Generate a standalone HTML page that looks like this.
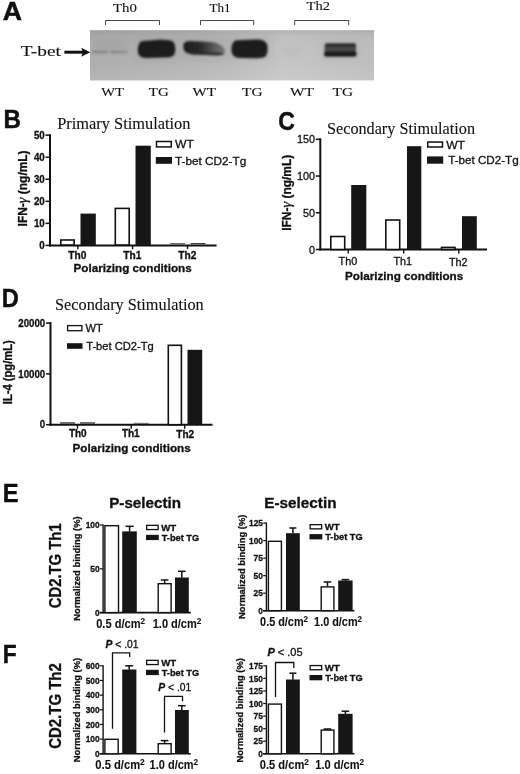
<!DOCTYPE html>
<html lang="en"><head><meta charset="utf-8"><title>Figure</title>
<style>
html,body{margin:0;padding:0;background:#fff;}
svg{display:block;filter:blur(0.32px);}
text{white-space:pre;fill:#111;}
.k{stroke:#111;stroke-width:0.3px;}
.b{stroke:#111;stroke-width:0.3px;}
.f.k{stroke-width:0.1px;}
.s{font-family:"Liberation Sans",Arial,Helvetica,sans-serif;}
.f{font-family:"Liberation Serif","Times New Roman",Times,serif;}
</style></head>
<body>
<svg width="520" height="774" viewBox="0 0 520 774">
<defs>
<linearGradient id="blotbg" x1="0" x2="1" y1="0" y2="0">
<stop offset="0" stop-color="#adadad"/><stop offset="0.4" stop-color="#b6b6b6"/><stop offset="0.68" stop-color="#c5c5c5"/><stop offset="1" stop-color="#bebebe"/>
</linearGradient>
<linearGradient id="blotv" x1="0" x2="0" y1="0" y2="1">
<stop offset="0" stop-color="#000" stop-opacity="0.09"/><stop offset="0.12" stop-color="#000" stop-opacity="0.03"/><stop offset="0.6" stop-color="#fff" stop-opacity="0"/><stop offset="1" stop-color="#fff" stop-opacity="0.1"/>
</linearGradient>
<linearGradient id="fade1" x1="0" x2="1" y1="0" y2="0">
<stop offset="0" stop-color="#1c1c1c"/><stop offset="0.4" stop-color="#2a2a2a"/><stop offset="0.75" stop-color="#5a5a5a"/><stop offset="1" stop-color="#7a7a7a"/>
</linearGradient>
<filter id="b1" x="-10%" y="-30%" width="120%" height="160%"><feGaussianBlur stdDeviation="1.15"/></filter>
<filter id="b2" x="-10%" y="-100%" width="120%" height="300%"><feGaussianBlur stdDeviation="1.2"/></filter>
<filter id="b3" x="-20%" y="-50%" width="140%" height="200%"><feGaussianBlur stdDeviation="3.5"/></filter>
<clipPath id="blotclip"><rect x="90" y="30.2" width="284" height="50.2"/></clipPath>
</defs>
<rect x="0" y="0" width="520" height="774" fill="#fff"/>
<text transform="translate(2.87,19.5) scale(1.065,1)" class="s" font-size="25" font-weight="bold" fill="#0a0a0a" stroke="#0a0a0a" stroke-width="0.45">A</text>
<text x="113" y="11.6" class="f k" font-size="12.5" textLength="24" lengthAdjust="spacingAndGlyphs">Th0</text>
<text x="209.5" y="11.6" class="f k" font-size="12.5" textLength="21" lengthAdjust="spacingAndGlyphs">Th1</text>
<text x="306.6" y="10.2" class="f k" font-size="12.5" textLength="23.5" lengthAdjust="spacingAndGlyphs">Th2</text>
<path d="M105.5,25.2 V20.5 H159.5 V25.2" fill="none" stroke="#333" stroke-width="0.9"/>
<path d="M200.5,25.2 V20.5 H253.7 V25.2" fill="none" stroke="#333" stroke-width="0.9"/>
<path d="M294.7,25.2 V20.5 H348.7 V25.2" fill="none" stroke="#333" stroke-width="0.9"/>
<rect x="90" y="30.2" width="284" height="50.2" fill="url(#blotbg)"/>
<rect x="90" y="30.2" width="284" height="50.2" fill="url(#blotv)"/>
<g clip-path="url(#blotclip)">
<g filter="url(#b3)">
<rect x="94" y="41" width="34" height="7" fill="#808080" opacity="0.28"/>
<rect x="180" y="36" width="92" height="24" fill="#909090" opacity="0.22"/>
<rect x="134" y="36" width="44" height="25" fill="#909090" opacity="0.22"/>
<rect x="282" y="49.5" width="20" height="4" fill="#909090" opacity="0.25"/>
<rect x="320" y="40" width="40" height="20" fill="#a0a0a0" opacity="0.2"/>
</g>
<g filter="url(#b2)">
<rect x="92" y="50.6" width="15" height="2.8" rx="1.4" fill="#5a5a5a" opacity="0.42"/>
<rect x="104" y="50.8" width="10" height="2.4" rx="1.2" fill="#5a5a5a" opacity="0.2"/>
<rect x="111" y="50.6" width="17" height="2.8" rx="1.4" fill="#5a5a5a" opacity="0.38"/>
</g>
<g filter="url(#b1)">
<path d="M141,41.2 Q150,40.4 158,39.8 Q170,39.2 173.5,42 Q176,46 175,53 Q173.5,57.6 166,57.6 L147,58 Q139,58 138,53 Q137,45 141,41.2 Z" fill="#1e1e1e"/>
<path d="M183.5,44.5 Q184,41 190,41 L212,42 Q223,44 225,50.5 Q225.5,55.5 219,55.6 L193,54.4 Q184,53.6 183.5,48.5 Z" fill="url(#fade1)"/>
<path d="M186,51 L218,52.6 Q224,53 224,54.4 L218,55.6 L193,54.4 Q186,53.6 186,51 Z" fill="#2a2a2a" opacity="0.85"/>
<path d="M236,40.2 L258,39.6 Q266.5,39.8 267.5,46 Q268,53 266,56 Q263,58.4 256,58.2 L240,58 Q232,57.6 231.4,51 Q231,42 236,40.2 Z" fill="#1e1e1e"/>
<rect x="324.6" y="43.2" width="31.4" height="10" rx="2" fill="#484848"/>
<rect x="325" y="43.4" width="30.6" height="3.6" rx="1.5" fill="#2e2e2e"/>
<rect x="324" y="51.2" width="32.6" height="5.6" rx="2.4" fill="#1c1c1c"/>
</g>
</g>
<text x="20.8" y="56.2" class="f k" font-size="15" textLength="40.2" lengthAdjust="spacingAndGlyphs">T-bet</text>
<line x1="64.40" y1="52.20" x2="84.00" y2="52.20" stroke="#111" stroke-width="3.0" stroke-linecap="butt"/>
<path d="M81.2,47.7 L90.3,52.2 L81.2,56.7 L83,52.2 Z" fill="#111"/>
<text x="101.2" y="96.3" class="f k" font-size="12.5" textLength="22.6" lengthAdjust="spacingAndGlyphs">WT</text>
<text x="148.8" y="96.3" class="f k" font-size="12.5" textLength="20" lengthAdjust="spacingAndGlyphs">TG</text>
<text x="192.5" y="96.3" class="f k" font-size="12.5" textLength="23.5" lengthAdjust="spacingAndGlyphs">WT</text>
<text x="242" y="96.3" class="f k" font-size="12.5" textLength="20.5" lengthAdjust="spacingAndGlyphs">TG</text>
<text x="290" y="96.3" class="f k" font-size="12.5" textLength="24" lengthAdjust="spacingAndGlyphs">WT</text>
<text x="332.5" y="96.3" class="f k" font-size="12.5" textLength="20.5" lengthAdjust="spacingAndGlyphs">TG</text>
<text transform="translate(3.55,127.7) scale(0.968,1)" class="s" font-size="25" font-weight="bold" fill="#0a0a0a" stroke="#0a0a0a" stroke-width="0.45">B</text>
<text x="57.2" y="128.6" class="f k" font-size="16.3" textLength="133.3" lengthAdjust="spacingAndGlyphs">Primary Stimulation</text>
<line x1="50.00" y1="134.20" x2="50.00" y2="246.40" stroke="#111" stroke-width="2.0" stroke-linecap="butt"/>
<line x1="49.00" y1="245.40" x2="216.60" y2="245.40" stroke="#111" stroke-width="2.0" stroke-linecap="butt"/>
<line x1="45.50" y1="245.40" x2="50.00" y2="245.40" stroke="#111" stroke-width="1.5" stroke-linecap="butt"/>
<text x="44.699999999999996" y="249.12300000000002" class="s b" font-size="10.2" font-weight="bold" text-anchor="end" textLength="5.4" lengthAdjust="spacingAndGlyphs">0</text>
<line x1="45.50" y1="223.36" x2="50.00" y2="223.36" stroke="#111" stroke-width="1.5" stroke-linecap="butt"/>
<text x="44.699999999999996" y="227.08300000000003" class="s b" font-size="10.2" font-weight="bold" text-anchor="end" textLength="10.8" lengthAdjust="spacingAndGlyphs">10</text>
<line x1="45.50" y1="201.32" x2="50.00" y2="201.32" stroke="#111" stroke-width="1.5" stroke-linecap="butt"/>
<text x="44.699999999999996" y="205.043" class="s b" font-size="10.2" font-weight="bold" text-anchor="end" textLength="10.8" lengthAdjust="spacingAndGlyphs">20</text>
<line x1="45.50" y1="179.28" x2="50.00" y2="179.28" stroke="#111" stroke-width="1.5" stroke-linecap="butt"/>
<text x="44.699999999999996" y="183.00300000000001" class="s b" font-size="10.2" font-weight="bold" text-anchor="end" textLength="10.8" lengthAdjust="spacingAndGlyphs">30</text>
<line x1="45.50" y1="157.24" x2="50.00" y2="157.24" stroke="#111" stroke-width="1.5" stroke-linecap="butt"/>
<text x="44.699999999999996" y="160.96300000000002" class="s b" font-size="10.2" font-weight="bold" text-anchor="end" textLength="10.8" lengthAdjust="spacingAndGlyphs">40</text>
<line x1="45.50" y1="135.20" x2="50.00" y2="135.20" stroke="#111" stroke-width="1.5" stroke-linecap="butt"/>
<text x="44.699999999999996" y="138.92300000000003" class="s b" font-size="10.2" font-weight="bold" text-anchor="end" textLength="10.8" lengthAdjust="spacingAndGlyphs">50</text>
<rect x="60.80" y="240.00" width="13.40" height="5.00" fill="#fff" stroke="#111" stroke-width="1.6"/>
<rect x="80.50" y="213.60" width="15.30" height="31.40" fill="#161616"/>
<rect x="115.30" y="208.40" width="13.90" height="36.60" fill="#fff" stroke="#111" stroke-width="1.6"/>
<rect x="135.50" y="145.70" width="15.30" height="99.30" fill="#161616"/>
<rect x="170.00" y="243.40" width="15.00" height="0.80" fill="#111"/>
<rect x="190.50" y="243.20" width="15.00" height="1.00" fill="#111"/>
<line x1="77.80" y1="245.40" x2="77.80" y2="249.20" stroke="#111" stroke-width="1.4" stroke-linecap="butt"/>
<line x1="132.60" y1="245.40" x2="132.60" y2="249.20" stroke="#111" stroke-width="1.4" stroke-linecap="butt"/>
<line x1="187.50" y1="245.40" x2="187.50" y2="249.20" stroke="#111" stroke-width="1.4" stroke-linecap="butt"/>
<text x="77.3" y="259.2" class="s b" font-size="10.2" font-weight="bold" text-anchor="middle">Th0</text>
<text x="132.3" y="259.2" class="s b" font-size="10.2" font-weight="bold" text-anchor="middle">Th1</text>
<text x="187.3" y="259.2" class="s b" font-size="10.2" font-weight="bold" text-anchor="middle">Th2</text>
<text x="73.5" y="272" class="s b" font-size="11.7" font-weight="bold" textLength="118.2" lengthAdjust="spacingAndGlyphs">Polarizing conditions</text>
<text x="0" y="0" class="s b" font-size="12" font-weight="bold" text-anchor="middle" textLength="76" lengthAdjust="spacingAndGlyphs" transform="translate(27.2,188.4) rotate(-90)">IFN-<tspan class="f" font-weight="normal" font-size="14.5" font-style="italic">γ</tspan> (ng/mL)</text>
<rect x="156.50" y="141.50" width="14.80" height="5.40" fill="#fff" stroke="#111" stroke-width="1.5"/>
<text x="175" y="148.3" class="s k" font-size="11.7" textLength="18.8" lengthAdjust="spacingAndGlyphs">WT</text>
<rect x="155.80" y="157.00" width="16.20" height="6.80" fill="#161616"/>
<text x="175" y="165" class="s k" font-size="11.7" textLength="71.2" lengthAdjust="spacingAndGlyphs">T-bet CD2-Tg</text>
<text transform="translate(278.28,129.5) scale(0.921,1)" class="s" font-size="25" font-weight="bold" fill="#0a0a0a" stroke="#0a0a0a" stroke-width="0.45">C</text>
<text x="327" y="134.3" class="f k" font-size="16.2" textLength="148" lengthAdjust="spacingAndGlyphs">Secondary Stimulation</text>
<line x1="320.30" y1="138.30" x2="320.30" y2="250.50" stroke="#111" stroke-width="2.0" stroke-linecap="butt"/>
<line x1="319.30" y1="249.50" x2="487.00" y2="249.50" stroke="#111" stroke-width="2.0" stroke-linecap="butt"/>
<line x1="315.80" y1="249.50" x2="320.30" y2="249.50" stroke="#111" stroke-width="1.5" stroke-linecap="butt"/>
<text x="315.0" y="253.515" class="s k" font-size="11" text-anchor="end" textLength="6.0" lengthAdjust="spacingAndGlyphs" stroke="#111" stroke-width="0.35">0</text>
<line x1="315.80" y1="212.77" x2="320.30" y2="212.77" stroke="#111" stroke-width="1.5" stroke-linecap="butt"/>
<text x="315.0" y="216.78166666666667" class="s k" font-size="11" text-anchor="end" textLength="12.0" lengthAdjust="spacingAndGlyphs" stroke="#111" stroke-width="0.35">50</text>
<line x1="315.80" y1="176.03" x2="320.30" y2="176.03" stroke="#111" stroke-width="1.5" stroke-linecap="butt"/>
<text x="315.0" y="180.04833333333335" class="s k" font-size="11" text-anchor="end" textLength="18.0" lengthAdjust="spacingAndGlyphs" stroke="#111" stroke-width="0.35">100</text>
<line x1="315.80" y1="139.30" x2="320.30" y2="139.30" stroke="#111" stroke-width="1.5" stroke-linecap="butt"/>
<text x="315.0" y="143.315" class="s k" font-size="11" text-anchor="end" textLength="18.0" lengthAdjust="spacingAndGlyphs" stroke="#111" stroke-width="0.35">150</text>
<rect x="330.80" y="236.50" width="13.90" height="13.00" fill="#fff" stroke="#111" stroke-width="1.6"/>
<rect x="351.20" y="185.00" width="15.10" height="64.50" fill="#161616"/>
<rect x="385.80" y="220.00" width="13.90" height="29.50" fill="#fff" stroke="#111" stroke-width="1.6"/>
<rect x="407.00" y="146.20" width="14.30" height="103.30" fill="#161616"/>
<rect x="441.50" y="247.40" width="13.50" height="2.10" fill="#fff" stroke="#111" stroke-width="1.6"/>
<rect x="462.00" y="216.20" width="14.80" height="33.30" fill="#161616"/>
<line x1="348.30" y1="249.50" x2="348.30" y2="253.50" stroke="#111" stroke-width="1.4" stroke-linecap="butt"/>
<line x1="403.70" y1="249.50" x2="403.70" y2="253.50" stroke="#111" stroke-width="1.4" stroke-linecap="butt"/>
<line x1="458.80" y1="249.50" x2="458.80" y2="253.50" stroke="#111" stroke-width="1.4" stroke-linecap="butt"/>
<text x="347.9" y="264.5" class="s k" font-size="10.8" text-anchor="middle" stroke="#111" stroke-width="0.35">Th0</text>
<text x="402.8" y="264.5" class="s k" font-size="10.8" text-anchor="middle" stroke="#111" stroke-width="0.35">Th1</text>
<text x="458.2" y="265.5" class="s k" font-size="10.8" text-anchor="middle" stroke="#111" stroke-width="0.35">Th2</text>
<text x="345" y="279.5" class="s b" font-size="11.7" font-weight="bold" textLength="118.2" lengthAdjust="spacingAndGlyphs">Polarizing conditions</text>
<text x="0" y="0" class="s b" font-size="12" font-weight="bold" text-anchor="middle" textLength="76" lengthAdjust="spacingAndGlyphs" transform="translate(291.3,192.8) rotate(-90)">IFN-<tspan class="f" font-weight="normal" font-size="14.5" font-style="italic">γ</tspan> (ng/mL)</text>
<rect x="427.75" y="142.05" width="14.75" height="4.95" fill="#fff" stroke="#111" stroke-width="1.5"/>
<text x="446.2" y="148.7" class="s k" font-size="11.6" textLength="18.8" lengthAdjust="spacingAndGlyphs">WT</text>
<rect x="427.00" y="156.40" width="16.20" height="7.30" fill="#161616"/>
<text x="448.2" y="163.8" class="s k" font-size="11.6" textLength="70.5" lengthAdjust="spacingAndGlyphs">T-bet CD2-Tg</text>
<text transform="translate(1.68,307) scale(0.946,1)" class="s" font-size="25" font-weight="bold" fill="#0a0a0a" stroke="#0a0a0a" stroke-width="0.45">D</text>
<text x="55" y="309.9" class="f k" font-size="16.2" textLength="148.7" lengthAdjust="spacingAndGlyphs">Secondary Stimulation</text>
<line x1="50.50" y1="322.10" x2="50.50" y2="425.70" stroke="#111" stroke-width="2.0" stroke-linecap="butt"/>
<line x1="49.50" y1="424.70" x2="212.50" y2="424.70" stroke="#111" stroke-width="2.0" stroke-linecap="butt"/>
<line x1="46.00" y1="424.70" x2="50.50" y2="424.70" stroke="#111" stroke-width="1.5" stroke-linecap="butt"/>
<text x="45.199999999999996" y="428.423" class="s b" font-size="10.2" font-weight="bold" text-anchor="end" textLength="5.4" lengthAdjust="spacingAndGlyphs">0</text>
<line x1="46.00" y1="373.90" x2="50.50" y2="373.90" stroke="#111" stroke-width="1.5" stroke-linecap="butt"/>
<text x="45.199999999999996" y="377.623" class="s b" font-size="10.2" font-weight="bold" text-anchor="end" textLength="26.9" lengthAdjust="spacingAndGlyphs">10000</text>
<line x1="46.00" y1="323.10" x2="50.50" y2="323.10" stroke="#111" stroke-width="1.5" stroke-linecap="butt"/>
<text x="45.199999999999996" y="326.82300000000004" class="s b" font-size="10.2" font-weight="bold" text-anchor="end" textLength="26.9" lengthAdjust="spacingAndGlyphs">20000</text>
<rect x="60.00" y="422.40" width="15.00" height="1.10" fill="#111"/>
<rect x="80.00" y="422.40" width="15.00" height="1.10" fill="#111"/>
<rect x="133.70" y="422.90" width="15.00" height="0.60" fill="#222"/>
<rect x="168.30" y="345.30" width="13.10" height="79.40" fill="#fff" stroke="#111" stroke-width="1.6"/>
<rect x="187.50" y="349.80" width="14.70" height="74.90" fill="#161616"/>
<line x1="77.50" y1="424.70" x2="77.50" y2="428.70" stroke="#111" stroke-width="1.4" stroke-linecap="butt"/>
<line x1="131.30" y1="424.70" x2="131.30" y2="428.70" stroke="#111" stroke-width="1.4" stroke-linecap="butt"/>
<line x1="184.70" y1="424.70" x2="184.70" y2="428.70" stroke="#111" stroke-width="1.4" stroke-linecap="butt"/>
<text x="77.8" y="437.2" class="s b" font-size="10" font-weight="bold" text-anchor="middle">Th0</text>
<text x="130.8" y="437.2" class="s b" font-size="10" font-weight="bold" text-anchor="middle">Th1</text>
<text x="185.2" y="437.6" class="s b" font-size="10" font-weight="bold" text-anchor="middle">Th2</text>
<text x="72.5" y="452" class="s b" font-size="11.7" font-weight="bold" textLength="118.2" lengthAdjust="spacingAndGlyphs">Polarizing conditions</text>
<text x="0" y="0" class="s b" font-size="12" font-weight="bold" text-anchor="middle" textLength="64" lengthAdjust="spacingAndGlyphs" transform="translate(12.2,372.2) rotate(-90)">IL-4 (pg/mL)</text>
<rect x="67.60" y="325.60" width="14.30" height="5.10" fill="#fff" stroke="#111" stroke-width="1.3"/>
<text x="85.5" y="332" class="s k" font-size="11.2" textLength="17.2" lengthAdjust="spacingAndGlyphs">WT</text>
<rect x="67.00" y="343.20" width="15.50" height="5.60" fill="#161616"/>
<text x="86.2" y="350.4" class="s k" font-size="11.2" textLength="67.5" lengthAdjust="spacingAndGlyphs">T-bet CD2-Tg</text>
<text transform="translate(2.78,502.4) scale(0.947,1)" class="s" font-size="25" font-weight="bold" fill="#0a0a0a" stroke="#0a0a0a" stroke-width="0.45">E</text>
<text x="109.2" y="508" class="s b" font-size="14.6" font-weight="bold" textLength="71.8" lengthAdjust="spacingAndGlyphs">P-selectin</text>
<text x="264.3" y="507.6" class="s b" font-size="14.6" font-weight="bold" textLength="72.2" lengthAdjust="spacingAndGlyphs">E-selectin</text>
<text x="0" y="0" class="s b" font-size="15.8" font-weight="bold" text-anchor="middle" textLength="85" lengthAdjust="spacingAndGlyphs" transform="translate(60.9,565.8) rotate(-90)">CD2.TG Th1</text>
<line x1="103.10" y1="524.40" x2="103.10" y2="613.30" stroke="#111" stroke-width="1.4" stroke-linecap="butt"/>
<line x1="99.70" y1="612.60" x2="190.80" y2="612.60" stroke="#111" stroke-width="1.6" stroke-linecap="butt"/>
<line x1="99.90" y1="612.60" x2="103.10" y2="612.60" stroke="#111" stroke-width="1.2" stroke-linecap="butt"/>
<text x="99.6" y="615.732" class="s b" font-size="8.7" font-weight="bold" text-anchor="end" textLength="4.6" lengthAdjust="spacingAndGlyphs">0</text>
<line x1="99.90" y1="568.80" x2="103.10" y2="568.80" stroke="#111" stroke-width="1.2" stroke-linecap="butt"/>
<text x="99.6" y="571.9319999999999" class="s b" font-size="8.7" font-weight="bold" text-anchor="end" textLength="9.3" lengthAdjust="spacingAndGlyphs">50</text>
<line x1="99.90" y1="525.00" x2="103.10" y2="525.00" stroke="#111" stroke-width="1.2" stroke-linecap="butt"/>
<text x="99.6" y="528.132" class="s b" font-size="8.7" font-weight="bold" text-anchor="end" textLength="13.9" lengthAdjust="spacingAndGlyphs">100</text>
<rect x="104.90" y="525.70" width="13.60" height="86.90" fill="#fff" stroke="#111" stroke-width="1.4"/>
<rect x="122.20" y="531.40" width="14.60" height="81.20" fill="#161616"/>
<rect x="158.20" y="583.70" width="12.90" height="28.90" fill="#fff" stroke="#111" stroke-width="1.4"/>
<rect x="175.00" y="577.50" width="13.80" height="35.10" fill="#161616"/>
<line x1="129.60" y1="526.30" x2="129.60" y2="531.60" stroke="#111" stroke-width="1.5" stroke-linecap="butt"/>
<line x1="125.50" y1="526.30" x2="133.70" y2="526.30" stroke="#111" stroke-width="1.5" stroke-linecap="butt"/>
<line x1="164.60" y1="580.00" x2="164.60" y2="583.20" stroke="#111" stroke-width="1.5" stroke-linecap="butt"/>
<line x1="160.80" y1="580.00" x2="168.40" y2="580.00" stroke="#111" stroke-width="1.5" stroke-linecap="butt"/>
<line x1="181.80" y1="571.30" x2="181.80" y2="577.70" stroke="#111" stroke-width="1.5" stroke-linecap="butt"/>
<line x1="178.00" y1="571.30" x2="185.60" y2="571.30" stroke="#111" stroke-width="1.5" stroke-linecap="butt"/>
<rect x="146.65" y="525.35" width="11.50" height="4.20" fill="#fff" stroke="#111" stroke-width="1.3"/>
<text x="161.2" y="530.6" class="s b" font-size="9.6" font-weight="bold" textLength="15" lengthAdjust="spacingAndGlyphs">WT</text>
<rect x="146.00" y="534.80" width="12.80" height="5.30" fill="#161616"/>
<text x="161.7" y="540.5" class="s b" font-size="9.6" font-weight="bold" textLength="37.5" lengthAdjust="spacingAndGlyphs">T-bet TG</text>
<text x="96.2" y="628.2" class="s" font-size="12" font-weight="bold" stroke="#111" stroke-width="0.08" textLength="49" lengthAdjust="spacingAndGlyphs">0.5 d/cm<tspan font-size="9" dy="-4.1">2</tspan></text>
<text x="152.7" y="628.2" class="s" font-size="12" font-weight="bold" stroke="#111" stroke-width="0.08" textLength="48.7" lengthAdjust="spacingAndGlyphs">1.0 d/cm<tspan font-size="9" dy="-4.1">2</tspan></text>
<text x="0" y="0" class="s b" font-size="9.9" font-weight="bold" text-anchor="middle" textLength="104.5" lengthAdjust="spacingAndGlyphs" transform="translate(79.8,568.6) rotate(-90)">Normalized binding (%)</text>
<line x1="266.40" y1="522.50" x2="266.40" y2="611.40" stroke="#111" stroke-width="1.4" stroke-linecap="butt"/>
<line x1="263.00" y1="610.70" x2="354.50" y2="610.70" stroke="#111" stroke-width="1.6" stroke-linecap="butt"/>
<line x1="263.20" y1="610.70" x2="266.40" y2="610.70" stroke="#111" stroke-width="1.2" stroke-linecap="butt"/>
<text x="262.9" y="613.832" class="s b" font-size="8.7" font-weight="bold" text-anchor="end" textLength="4.6" lengthAdjust="spacingAndGlyphs">0</text>
<line x1="263.20" y1="593.18" x2="266.40" y2="593.18" stroke="#111" stroke-width="1.2" stroke-linecap="butt"/>
<text x="262.9" y="596.312" class="s b" font-size="8.7" font-weight="bold" text-anchor="end" textLength="9.3" lengthAdjust="spacingAndGlyphs">25</text>
<line x1="263.20" y1="575.66" x2="266.40" y2="575.66" stroke="#111" stroke-width="1.2" stroke-linecap="butt"/>
<text x="262.9" y="578.792" class="s b" font-size="8.7" font-weight="bold" text-anchor="end" textLength="9.3" lengthAdjust="spacingAndGlyphs">50</text>
<line x1="263.20" y1="558.14" x2="266.40" y2="558.14" stroke="#111" stroke-width="1.2" stroke-linecap="butt"/>
<text x="262.9" y="561.2719999999999" class="s b" font-size="8.7" font-weight="bold" text-anchor="end" textLength="9.3" lengthAdjust="spacingAndGlyphs">75</text>
<line x1="263.20" y1="540.62" x2="266.40" y2="540.62" stroke="#111" stroke-width="1.2" stroke-linecap="butt"/>
<text x="262.9" y="543.752" class="s b" font-size="8.7" font-weight="bold" text-anchor="end" textLength="13.9" lengthAdjust="spacingAndGlyphs">100</text>
<line x1="263.20" y1="523.10" x2="266.40" y2="523.10" stroke="#111" stroke-width="1.2" stroke-linecap="butt"/>
<text x="262.9" y="526.232" class="s b" font-size="8.7" font-weight="bold" text-anchor="end" textLength="13.9" lengthAdjust="spacingAndGlyphs">125</text>
<rect x="268.40" y="541.30" width="13.00" height="69.40" fill="#fff" stroke="#111" stroke-width="1.4"/>
<rect x="286.00" y="533.20" width="13.80" height="77.50" fill="#161616"/>
<rect x="321.20" y="586.90" width="12.70" height="23.80" fill="#fff" stroke="#111" stroke-width="1.4"/>
<rect x="338.20" y="580.50" width="14.40" height="30.20" fill="#161616"/>
<line x1="292.90" y1="528.00" x2="292.90" y2="533.20" stroke="#111" stroke-width="1.5" stroke-linecap="butt"/>
<line x1="289.40" y1="528.00" x2="296.40" y2="528.00" stroke="#111" stroke-width="1.5" stroke-linecap="butt"/>
<line x1="327.50" y1="582.00" x2="327.50" y2="586.40" stroke="#111" stroke-width="1.5" stroke-linecap="butt"/>
<line x1="323.70" y1="582.00" x2="331.30" y2="582.00" stroke="#111" stroke-width="1.5" stroke-linecap="butt"/>
<line x1="345.40" y1="579.60" x2="345.40" y2="580.70" stroke="#111" stroke-width="1.5" stroke-linecap="butt"/>
<line x1="341.60" y1="579.60" x2="349.20" y2="579.60" stroke="#111" stroke-width="1.5" stroke-linecap="butt"/>
<rect x="310.15" y="524.65" width="11.50" height="4.20" fill="#fff" stroke="#111" stroke-width="1.3"/>
<text x="324.7" y="529.9000000000001" class="s b" font-size="9.6" font-weight="bold" textLength="15" lengthAdjust="spacingAndGlyphs">WT</text>
<rect x="309.50" y="534.10" width="12.80" height="5.30" fill="#161616"/>
<text x="325.2" y="539.8000000000001" class="s b" font-size="9.6" font-weight="bold" textLength="37.5" lengthAdjust="spacingAndGlyphs">T-bet TG</text>
<text x="260.1" y="625.8" class="s" font-size="12" font-weight="bold" stroke="#111" stroke-width="0.08" textLength="48" lengthAdjust="spacingAndGlyphs">0.5 d/cm<tspan font-size="9" dy="-4.1">2</tspan></text>
<text x="314.1" y="625.8" class="s" font-size="12" font-weight="bold" stroke="#111" stroke-width="0.08" textLength="48" lengthAdjust="spacingAndGlyphs">1.0 d/cm<tspan font-size="9" dy="-4.1">2</tspan></text>
<text x="0" y="0" class="s b" font-size="9.9" font-weight="bold" text-anchor="middle" textLength="104.5" lengthAdjust="spacingAndGlyphs" transform="translate(244.6,566.8) rotate(-90)">Normalized binding (%)</text>
<text transform="translate(2.84,663.3) scale(0.908,1)" class="s" font-size="25" font-weight="bold" fill="#0a0a0a" stroke="#0a0a0a" stroke-width="0.45">F</text>
<text x="0" y="0" class="s b" font-size="15.8" font-weight="bold" text-anchor="middle" textLength="85.7" lengthAdjust="spacingAndGlyphs" transform="translate(60.9,706) rotate(-90)">CD2.TG Th2</text>
<line x1="103.10" y1="665.20" x2="103.10" y2="754.50" stroke="#111" stroke-width="1.4" stroke-linecap="butt"/>
<line x1="99.70" y1="753.80" x2="190.80" y2="753.80" stroke="#111" stroke-width="1.6" stroke-linecap="butt"/>
<line x1="99.90" y1="753.80" x2="103.10" y2="753.80" stroke="#111" stroke-width="1.2" stroke-linecap="butt"/>
<text x="99.6" y="756.9319999999999" class="s b" font-size="8.7" font-weight="bold" text-anchor="end" textLength="4.6" lengthAdjust="spacingAndGlyphs">0</text>
<line x1="99.90" y1="739.13" x2="103.10" y2="739.13" stroke="#111" stroke-width="1.2" stroke-linecap="butt"/>
<text x="99.6" y="742.2653333333333" class="s b" font-size="8.7" font-weight="bold" text-anchor="end" textLength="13.9" lengthAdjust="spacingAndGlyphs">100</text>
<line x1="99.90" y1="724.47" x2="103.10" y2="724.47" stroke="#111" stroke-width="1.2" stroke-linecap="butt"/>
<text x="99.6" y="727.5986666666665" class="s b" font-size="8.7" font-weight="bold" text-anchor="end" textLength="13.9" lengthAdjust="spacingAndGlyphs">200</text>
<line x1="99.90" y1="709.80" x2="103.10" y2="709.80" stroke="#111" stroke-width="1.2" stroke-linecap="butt"/>
<text x="99.6" y="712.9319999999999" class="s b" font-size="8.7" font-weight="bold" text-anchor="end" textLength="13.9" lengthAdjust="spacingAndGlyphs">300</text>
<line x1="99.90" y1="695.13" x2="103.10" y2="695.13" stroke="#111" stroke-width="1.2" stroke-linecap="butt"/>
<text x="99.6" y="698.2653333333333" class="s b" font-size="8.7" font-weight="bold" text-anchor="end" textLength="13.9" lengthAdjust="spacingAndGlyphs">400</text>
<line x1="99.90" y1="680.47" x2="103.10" y2="680.47" stroke="#111" stroke-width="1.2" stroke-linecap="butt"/>
<text x="99.6" y="683.5986666666665" class="s b" font-size="8.7" font-weight="bold" text-anchor="end" textLength="13.9" lengthAdjust="spacingAndGlyphs">500</text>
<line x1="99.90" y1="665.80" x2="103.10" y2="665.80" stroke="#111" stroke-width="1.2" stroke-linecap="butt"/>
<text x="99.6" y="668.9319999999999" class="s b" font-size="8.7" font-weight="bold" text-anchor="end" textLength="13.9" lengthAdjust="spacingAndGlyphs">600</text>
<rect x="104.90" y="739.30" width="13.30" height="14.50" fill="#fff" stroke="#111" stroke-width="1.4"/>
<rect x="122.20" y="669.50" width="14.20" height="84.30" fill="#161616"/>
<rect x="158.20" y="743.70" width="12.90" height="10.10" fill="#fff" stroke="#111" stroke-width="1.4"/>
<rect x="175.00" y="710.00" width="13.80" height="43.80" fill="#161616"/>
<line x1="129.20" y1="665.80" x2="129.20" y2="669.70" stroke="#111" stroke-width="1.5" stroke-linecap="butt"/>
<line x1="125.20" y1="665.80" x2="133.20" y2="665.80" stroke="#111" stroke-width="1.5" stroke-linecap="butt"/>
<line x1="164.60" y1="740.60" x2="164.60" y2="743.20" stroke="#111" stroke-width="1.5" stroke-linecap="butt"/>
<line x1="160.80" y1="740.60" x2="168.40" y2="740.60" stroke="#111" stroke-width="1.5" stroke-linecap="butt"/>
<line x1="181.80" y1="705.70" x2="181.80" y2="710.20" stroke="#111" stroke-width="1.5" stroke-linecap="butt"/>
<line x1="178.00" y1="705.70" x2="185.60" y2="705.70" stroke="#111" stroke-width="1.5" stroke-linecap="butt"/>
<rect x="146.65" y="660.35" width="11.50" height="4.20" fill="#fff" stroke="#111" stroke-width="1.3"/>
<text x="161.2" y="665.6" class="s b" font-size="9.6" font-weight="bold" textLength="15" lengthAdjust="spacingAndGlyphs">WT</text>
<rect x="146.00" y="669.80" width="12.80" height="5.30" fill="#161616"/>
<text x="161.7" y="675.5" class="s b" font-size="9.6" font-weight="bold" textLength="37.5" lengthAdjust="spacingAndGlyphs">T-bet TG</text>
<text x="95.3" y="769.4" class="s" font-size="12" font-weight="bold" stroke="#111" stroke-width="0.08" textLength="49.5" lengthAdjust="spacingAndGlyphs">0.5 d/cm<tspan font-size="9" dy="-4.1">2</tspan></text>
<text x="149.6" y="769.4" class="s" font-size="12" font-weight="bold" stroke="#111" stroke-width="0.08" textLength="48.6" lengthAdjust="spacingAndGlyphs">1.0 d/cm<tspan font-size="9" dy="-4.1">2</tspan></text>
<text x="0" y="0" class="s b" font-size="9.9" font-weight="bold" text-anchor="middle" textLength="104.5" lengthAdjust="spacingAndGlyphs" transform="translate(79.8,710) rotate(-90)">Normalized binding (%)</text>
<line x1="266.40" y1="665.20" x2="266.40" y2="754.50" stroke="#111" stroke-width="1.4" stroke-linecap="butt"/>
<line x1="263.00" y1="753.80" x2="354.50" y2="753.80" stroke="#111" stroke-width="1.6" stroke-linecap="butt"/>
<line x1="263.20" y1="753.80" x2="266.40" y2="753.80" stroke="#111" stroke-width="1.2" stroke-linecap="butt"/>
<text x="262.9" y="756.9319999999999" class="s b" font-size="8.7" font-weight="bold" text-anchor="end" textLength="4.6" lengthAdjust="spacingAndGlyphs">0</text>
<line x1="263.20" y1="741.23" x2="266.40" y2="741.23" stroke="#111" stroke-width="1.2" stroke-linecap="butt"/>
<text x="262.9" y="744.3605714285713" class="s b" font-size="8.7" font-weight="bold" text-anchor="end" textLength="9.3" lengthAdjust="spacingAndGlyphs">25</text>
<line x1="263.20" y1="728.66" x2="266.40" y2="728.66" stroke="#111" stroke-width="1.2" stroke-linecap="butt"/>
<text x="262.9" y="731.7891428571428" class="s b" font-size="8.7" font-weight="bold" text-anchor="end" textLength="9.3" lengthAdjust="spacingAndGlyphs">50</text>
<line x1="263.20" y1="716.09" x2="266.40" y2="716.09" stroke="#111" stroke-width="1.2" stroke-linecap="butt"/>
<text x="262.9" y="719.2177142857142" class="s b" font-size="8.7" font-weight="bold" text-anchor="end" textLength="9.3" lengthAdjust="spacingAndGlyphs">75</text>
<line x1="263.20" y1="703.51" x2="266.40" y2="703.51" stroke="#111" stroke-width="1.2" stroke-linecap="butt"/>
<text x="262.9" y="706.6462857142856" class="s b" font-size="8.7" font-weight="bold" text-anchor="end" textLength="13.9" lengthAdjust="spacingAndGlyphs">100</text>
<line x1="263.20" y1="690.94" x2="266.40" y2="690.94" stroke="#111" stroke-width="1.2" stroke-linecap="butt"/>
<text x="262.9" y="694.074857142857" class="s b" font-size="8.7" font-weight="bold" text-anchor="end" textLength="13.9" lengthAdjust="spacingAndGlyphs">125</text>
<line x1="263.20" y1="678.37" x2="266.40" y2="678.37" stroke="#111" stroke-width="1.2" stroke-linecap="butt"/>
<text x="262.9" y="681.5034285714285" class="s b" font-size="8.7" font-weight="bold" text-anchor="end" textLength="13.9" lengthAdjust="spacingAndGlyphs">150</text>
<line x1="263.20" y1="665.80" x2="266.40" y2="665.80" stroke="#111" stroke-width="1.2" stroke-linecap="butt"/>
<text x="262.9" y="668.9319999999999" class="s b" font-size="8.7" font-weight="bold" text-anchor="end" textLength="13.9" lengthAdjust="spacingAndGlyphs">175</text>
<rect x="268.40" y="704.10" width="13.00" height="49.70" fill="#fff" stroke="#111" stroke-width="1.4"/>
<rect x="286.00" y="679.50" width="13.80" height="74.30" fill="#161616"/>
<rect x="321.20" y="730.10" width="12.70" height="23.70" fill="#fff" stroke="#111" stroke-width="1.4"/>
<rect x="338.20" y="713.80" width="14.40" height="40.00" fill="#161616"/>
<line x1="292.90" y1="673.20" x2="292.90" y2="679.70" stroke="#111" stroke-width="1.5" stroke-linecap="butt"/>
<line x1="289.40" y1="673.20" x2="296.40" y2="673.20" stroke="#111" stroke-width="1.5" stroke-linecap="butt"/>
<line x1="327.50" y1="729.00" x2="327.50" y2="729.60" stroke="#111" stroke-width="1.5" stroke-linecap="butt"/>
<line x1="323.70" y1="729.00" x2="331.30" y2="729.00" stroke="#111" stroke-width="1.5" stroke-linecap="butt"/>
<line x1="345.40" y1="711.20" x2="345.40" y2="714.00" stroke="#111" stroke-width="1.5" stroke-linecap="butt"/>
<line x1="341.60" y1="711.20" x2="349.20" y2="711.20" stroke="#111" stroke-width="1.5" stroke-linecap="butt"/>
<rect x="310.15" y="665.55" width="11.50" height="4.20" fill="#fff" stroke="#111" stroke-width="1.3"/>
<text x="324.7" y="670.8000000000001" class="s b" font-size="9.6" font-weight="bold" textLength="15" lengthAdjust="spacingAndGlyphs">WT</text>
<rect x="309.50" y="675.00" width="12.80" height="5.30" fill="#161616"/>
<text x="325.2" y="680.7" class="s b" font-size="9.6" font-weight="bold" textLength="37.5" lengthAdjust="spacingAndGlyphs">T-bet TG</text>
<text x="259.7" y="769.2" class="s" font-size="12" font-weight="bold" stroke="#111" stroke-width="0.08" textLength="49.3" lengthAdjust="spacingAndGlyphs">0.5 d/cm<tspan font-size="9" dy="-4.1">2</tspan></text>
<text x="315.3" y="769.2" class="s" font-size="12" font-weight="bold" stroke="#111" stroke-width="0.08" textLength="48.9" lengthAdjust="spacingAndGlyphs">1.0 d/cm<tspan font-size="9" dy="-4.1">2</tspan></text>
<text x="0" y="0" class="s b" font-size="9.9" font-weight="bold" text-anchor="middle" textLength="104.5" lengthAdjust="spacingAndGlyphs" transform="translate(243.4,710.3) rotate(-90)">Normalized binding (%)</text>
<text x="105.6" y="647.6" class="s k" font-size="10.4" textLength="33" lengthAdjust="spacingAndGlyphs"><tspan font-weight="bold" font-style="italic">P</tspan> &lt; .01</text>
<path d="M112.5,728.8 V652.9 H129.7 V657" fill="none" stroke="#111" stroke-width="1.3"/>
<text x="158.3" y="691.3" class="s k" font-size="10.4" textLength="33" lengthAdjust="spacingAndGlyphs"><tspan font-weight="bold" font-style="italic">P</tspan> &lt; .01</text>
<path d="M164.5,732.5 V696.3 H182.5 V701.3" fill="none" stroke="#111" stroke-width="1.3"/>
<text x="267.4" y="655.8" class="s k" font-size="10.4" textLength="35.2" lengthAdjust="spacingAndGlyphs"><tspan font-weight="bold" font-style="italic">P</tspan> &lt; .05</text>
<path d="M275.5,697 V662.5 H293.8 V668" fill="none" stroke="#111" stroke-width="1.3"/>
</svg>
</body></html>
